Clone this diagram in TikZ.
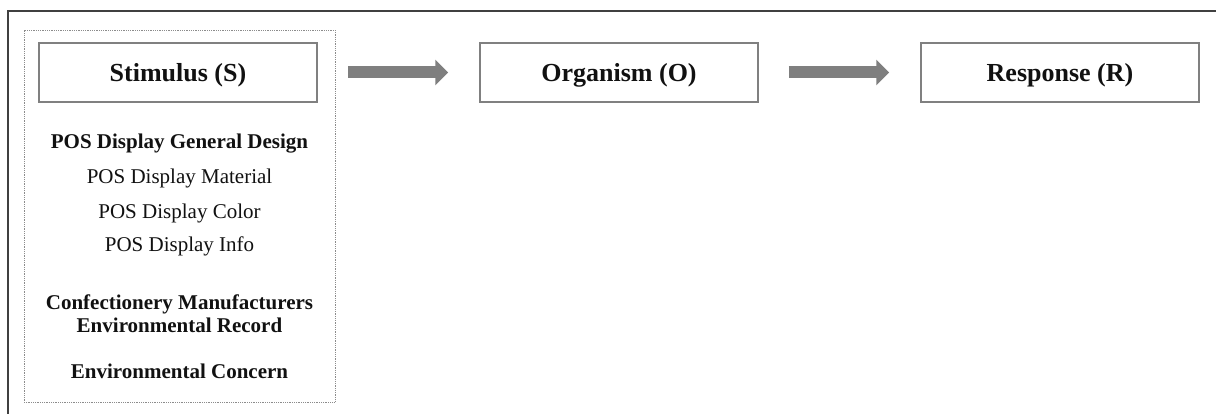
\documentclass[tikz,border=0pt]{standalone}
\usepackage{fontspec}
\setmainfont{Liberation Serif}
\usetikzlibrary{arrows.meta}
\definecolor{boxgray}{HTML}{808080}
\definecolor{arrowgray}{HTML}{7F7F7F}
\definecolor{framegray}{HTML}{404040}
\definecolor{dotgray}{HTML}{8C8C8C}
\definecolor{txt}{HTML}{111111}
\tikzset{
  mainbox/.style={draw=boxgray, line width=1.5pt, minimum width=278pt, minimum height=59pt, inner sep=0pt,
    text height=18pt, text depth=0pt,
    font=\fontsize{26}{30}\selectfont\bfseries, text=txt},
  dotbox/.style={draw=dotgray, line width=0.8pt, dash pattern=on 0.9pt off 0.9pt, minimum width=311pt, minimum height=372pt, inner sep=0pt},
  itemb/.style={font=\fontsize{21}{25}\selectfont\bfseries, text=txt, inner sep=0pt, text height=14pt, text depth=0pt},
  itemr/.style={font=\fontsize{21}{25}\selectfont, text=txt, inner sep=0pt, text height=14pt, text depth=0pt},
  bigarrow/.style={draw=arrowgray, line width=12pt, -{Triangle[length=13pt, width=25pt, fill=arrowgray]}}
}
\begin{document}
\begin{tikzpicture}[x=1pt,y=-1pt]
\useasboundingbox (0,0) rectangle (1216,414);
\fill[white] (0,0) rectangle (1216,414);
% outer frame (only top and left visible)
\draw[framegray, line width=2pt] (8,414) -- (8,11) -- (1216,11);
% dotted stimulus group
\node[dotbox] (dot) at (179.5,216) {};
\node[mainbox] (S) at (178,72.5) {Stimulus (S)};
\node[mainbox] (O) at (619,72.5) {Organism (O)};
\node[mainbox] (R) at (1060,72.5) {Response (R)};
% items
\node[itemb] (i1) at (179.5,142) {POS Display General Design};
\node[itemr] (i2) at (179.5,177) {POS Display Material};
\node[itemr] (i3) at (179.5,212) {POS Display Color};
\node[itemr] (i4) at (179.5,245) {POS Display Info};
\node[itemb] (i5) at (179.5,302) {Confectionery Manufacturers};
\node[itemb] (i6) at (179.5,325) {Environmental Record};
\node[itemb] (i7) at (179.5,371) {Environmental Concern};
% arrows
\draw[bigarrow, shorten <=13pt, shorten >=31pt] (dot.east |- S.east) -- (O.west);
\draw[bigarrow, shorten <=30pt, shorten >=31pt] (O.east) -- (R.west);
\end{tikzpicture}
\end{document}
